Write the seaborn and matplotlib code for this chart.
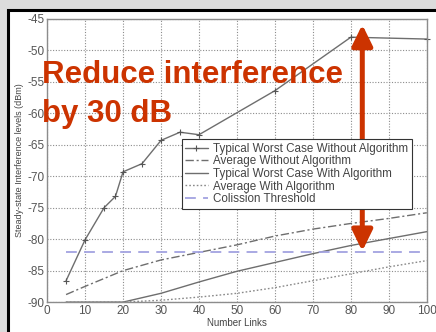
import matplotlib
matplotlib.use("Agg")
import matplotlib.pyplot as plt
from matplotlib.patches import Rectangle
import seaborn as sns
import pandas as pd

# data
links_wc = [5, 10, 15, 18, 20, 25, 30, 35, 40, 60, 80, 100]
wc_without = [-86.6, -80.1, -75.0, -73.2, -69.3, -68.0, -64.3, -63.0, -63.4, -56.4, -47.9, -48.2]

links_avg = [5, 10, 20, 30, 40, 50, 60, 70, 80, 90, 100]
avg_without = [-88.8, -87.5, -85.0, -83.3, -82.1, -80.9, -79.5, -78.4, -77.5, -76.7, -75.8]

links_with = [5, 10, 20, 30, 40, 50, 60, 70, 80, 90, 100]
wc_with = [-90.0, -90.0, -90.0, -88.6, -86.8, -85.1, -83.7, -82.3, -81.0, -79.9, -78.8]
avg_with = [-90.0, -90.0, -90.0, -89.7, -89.2, -88.6, -87.7, -86.6, -85.5, -84.4, -83.4]

threshold_x = [5, 100]
threshold_y = [-82, -82]

labels = ["Typical Worst Case Without Algorithm", "Average Without Algorithm",
          "Typical Worst Case With Algorithm", "Average With Algorithm",
          "Colission Threshold"]

sns.set_style("white")
plt.rcParams['font.family'] = ['Liberation Sans', 'DejaVu Sans']
plt.rcParams['axes.unicode_minus'] = False

fig = plt.figure(figsize=(4.36, 3.32), dpi=100)
fig.patch.set_facecolor('#dcdcdc')
panel = Rectangle((8 / 436, -0.05), 1.0, 1.05 - 10 / 332, transform=fig.transFigure,
                  facecolor='white', edgecolor='black', linewidth=2.2, zorder=-10)
fig.patches.append(panel)

ax = fig.add_axes([0.108, 0.090, 0.871, 0.853])
ax.set_facecolor('white')

line_col = '#6e6e6e'
df1 = pd.DataFrame({'x': links_wc, 'y': wc_without})
sns.lineplot(data=df1, x='x', y='y', ax=ax, color=line_col, lw=1.0, marker='+',
             markersize=5, markeredgecolor='#555555', markeredgewidth=0.8,
             label=labels[0], clip_on=False)
df2 = pd.DataFrame({'x': links_avg, 'y': avg_without})
sns.lineplot(data=df2, x='x', y='y', ax=ax, color=line_col, lw=1.0,
             linestyle=(0, (6, 2, 1.5, 2)), label=labels[1])
df3 = pd.DataFrame({'x': links_with, 'y': wc_with})
sns.lineplot(data=df3, x='x', y='y', ax=ax, color=line_col, lw=1.0, label=labels[2])
df4 = pd.DataFrame({'x': links_with, 'y': avg_with})
sns.lineplot(data=df4, x='x', y='y', ax=ax, color='#8a8a8a', lw=1.0,
             linestyle=(0, (1.2, 1.5)), label=labels[3])
df5 = pd.DataFrame({'x': threshold_x, 'y': threshold_y})
sns.lineplot(data=df5, x='x', y='y', ax=ax, color='#a3a3e0', lw=1.3,
             linestyle=(0, (6, 4)), label=labels[4])

ax.set_xlim(0, 100)
ax.set_ylim(-90, -45)
ax.set_xticks(range(0, 101, 10))
ax.set_yticks(range(-90, -44, 5))
ax.grid(True, linestyle=(0, (1, 1.5)), color='#8c8c8c', linewidth=0.8)
for s in ax.spines.values():
    s.set_color('#8c8c8c')
    s.set_linewidth(1.0)
ax.tick_params(labelsize=8.5, colors='#555555', direction='in', length=3, pad=2)
ax.set_xlabel('Number Links', fontsize=7, color='#444444', labelpad=1)
ax.set_ylabel('Steady-state Interference levels (dBm)', fontsize=6.5, color='#444444', labelpad=2)

leg = ax.legend(loc='upper left', bbox_to_anchor=(0.355, 0.575), fontsize=8.4,
                frameon=True, fancybox=False, framealpha=1, edgecolor='#333333',
                handlelength=1.9, handletextpad=0.5, borderpad=0.3, labelspacing=0.05,
                borderaxespad=0)
leg.get_frame().set_linewidth(0.8)
for t in leg.get_texts():
    t.set_color('#444444')

orange = '#cc3300'
ax.annotate('', xy=(83, -45.9), xytext=(83, -81.9),
            arrowprops=dict(arrowstyle='<|-|>, head_length=0.45, head_width=0.22',
                            mutation_scale=28, color=orange, lw=3.6,
                            shrinkA=0, shrinkB=0))

fig.text(42 / 436, (332 - 83) / 332, 'Reduce interference', fontsize=22.5,
         fontweight='bold', color=orange, va='baseline', ha='left')
fig.text(42 / 436, (332 - 122) / 332, 'by 30 dB', fontsize=22.5,
         fontweight='bold', color=orange, va='baseline', ha='left')

fig.savefig('out.png', dpi=100, facecolor=fig.get_facecolor())
